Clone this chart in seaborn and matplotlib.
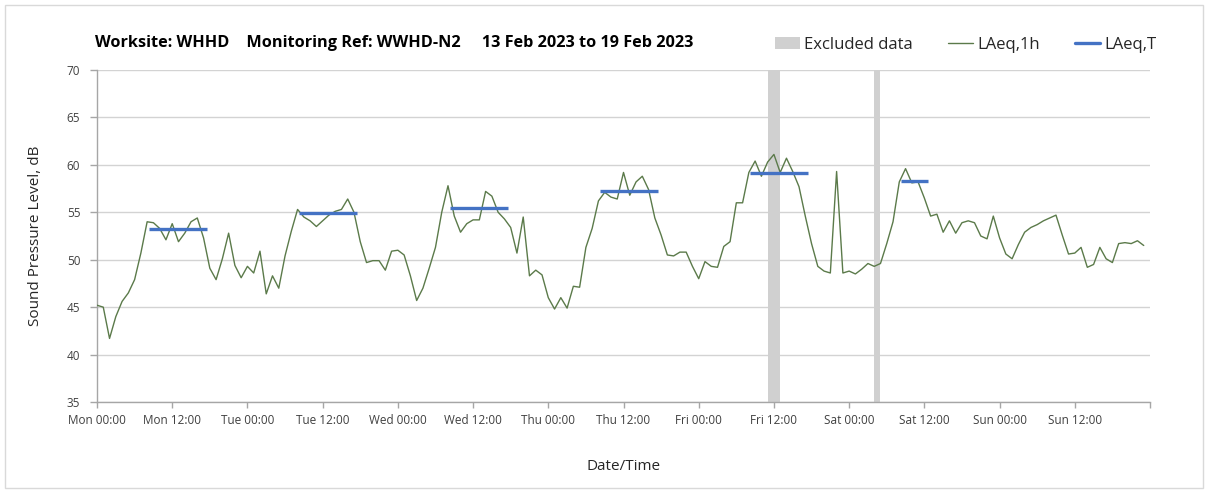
import numpy as np
import pandas as pd
import matplotlib
matplotlib.use("Agg")
import matplotlib.pyplot as plt
import seaborn as sns
from matplotlib.patches import Patch, Rectangle
from matplotlib.lines import Line2D

# ---------------- data ----------------
title_text = "Worksite: WHHD    Monitoring Ref: WWHD-N2     13 Feb 2023 to 19 Feb 2023"

hours = list(range(168))
laeq_1h = [
    # Mon
    45.2, 45.0, 41.7, 44.0, 45.6, 46.5, 47.9, 50.7, 54.0, 53.9, 53.3, 52.1,
    53.8, 51.9, 52.8, 54.0, 54.4, 52.3, 49.1, 47.9, 50.1, 52.8, 49.4, 48.1,
    # Tue
    49.3, 48.6, 50.9, 46.4, 48.3, 47.0, 50.4, 53.0, 55.3, 54.5, 54.1, 53.5,
    54.1, 54.7, 55.1, 55.3, 56.4, 55.0, 51.9, 49.7, 49.9, 49.9, 48.9, 50.9,
    # Wed
    51.0, 50.5, 48.3, 45.7, 47.0, 49.1, 51.3, 55.0, 57.8, 54.6, 52.9, 53.8,
    54.2, 54.2, 57.2, 56.7, 55.0, 54.3, 53.4, 50.7, 54.5, 48.3, 48.9, 48.4,
    # Thu
    46.0, 44.8, 46.0, 44.9, 47.2, 47.1, 51.3, 53.3, 56.2, 57.1, 56.6, 56.4,
    59.2, 56.8, 58.2, 58.8, 57.4, 54.4, 52.6, 50.5, 50.4, 50.8, 50.8, 49.3,
    # Fri
    48.0, 49.8, 49.3, 49.2, 51.4, 51.9, 56.0, 56.0, 59.2, 60.4, 58.8, 60.3,
    61.1, 59.2, 60.7, 59.3, 57.7, 54.6, 51.7, 49.3, 48.8, 48.6, 59.3, 48.6,
    # Sat
    48.8, 48.5, 49.0, 49.6, 49.3, 49.6, 51.7, 54.0, 58.2, 59.6, 58.1, 58.2,
    56.5, 54.6, 54.8, 52.9, 54.1, 52.8, 53.9, 54.1, 53.9, 52.5, 52.2, 54.6,
    # Sun
    52.3, 50.6, 50.1, 51.6, 52.9, 53.4, 53.7, 54.1, 54.4, 54.7, 52.6, 50.6,
    50.7, 51.3, 49.2, 49.5, 51.3, 50.1, 49.7, 51.7, 51.8, 51.7, 52.0, 51.5,
]

period_start = [8.25, 32.25, 56.25, 80.25, 104.25, 128.35]
period_end = [17.5, 41.5, 65.5, 89.5, 113.5, 132.6]
laeq_t = [53.2, 54.9, 55.4, 57.2, 59.1, 58.3]

excluded_start = [107.0, 124.0]
excluded_end = [109.0, 125.0]

x_tick_hours = list(range(0, 169, 12))
x_tick_labels = ["Mon 00:00", "Mon 12:00", "Tue 00:00", "Tue 12:00",
                 "Wed 00:00", "Wed 12:00", "Thu 00:00", "Thu 12:00",
                 "Fri 00:00", "Fri 12:00", "Sat 00:00", "Sat 12:00",
                 "Sun 00:00", "Sun 12:00", ""]
day_lines = list(range(0, 169, 24))
y_ticks = [35, 40, 45, 50, 55, 60, 65, 70]

legend_labels = ["Excluded data", "LAeq,1h", "LAeq,T"]

# ---------------- style ----------------
sns.set_theme(style="white")
plt.rcParams["font.family"] = ["Open Sans", "DejaVu Sans"]

green = "#5b7a4a"
blue = "#4472c4"
grey_band = "#d0d0d0"
grid_c = "#d3d3d3"
axis_c = "#a6a6a6"
text_c = "#262626"

W, H = 1208, 493
fig = plt.figure(figsize=(W / 100, H / 100), dpi=100)
ax = fig.add_axes([97 / W, 1 - 402 / H, (1150 - 97) / W, (402 - 70) / H])

# excluded data bands
for s, e in zip(excluded_start, excluded_end):
    ax.axvspan(s, e, color=grey_band, lw=0, zorder=1)

# hourly line
df = pd.DataFrame({"hour": hours, "level": laeq_1h})
sns.lineplot(data=df, x="hour", y="level", color=green, linewidth=1.0,
             ax=ax, legend=False, zorder=3)

# period LAeq,T
rows = []
for i, (s, e, v) in enumerate(zip(period_start, period_end, laeq_t)):
    rows.append({"hour": s, "level": v, "period": i})
    rows.append({"hour": e, "level": v, "period": i})
dft = pd.DataFrame(rows)
sns.lineplot(data=dft, x="hour", y="level", units="period", estimator=None,
             color=blue, linewidth=2.4, ax=ax, legend=False, zorder=4,
             solid_capstyle="butt")

ax.set_xlim(0, 168)
ax.set_ylim(35, 70)
ax.set_xticks(x_tick_hours)
ax.set_xticklabels(x_tick_labels)
ax.set_xticks(day_lines, minor=True)
ax.set_yticks(y_ticks)
ax.set_yticklabels([str(v) for v in y_ticks])

ax.grid(axis="y", which="major", color=grid_c, linewidth=1.0, zorder=0)
ax.grid(axis="x", which="minor", color=grid_c, linewidth=1.0, zorder=0)
ax.grid(axis="x", which="major", visible=False)
ax.set_axisbelow(True)

for side in ["top", "right"]:
    ax.spines[side].set_visible(False)
for side in ["left", "bottom"]:
    ax.spines[side].set_color(axis_c)
    ax.spines[side].set_linewidth(1.0)

ax.tick_params(axis="x", which="major", direction="out", length=4, width=1,
               color=axis_c, labelsize=8.5, labelcolor="#404040", pad=5)
ax.tick_params(axis="x", which="minor", length=0)
ax.tick_params(axis="y", which="major", direction="out", length=5, width=1,
               color=axis_c, labelsize=8.5, labelcolor="#404040", pad=7)
ax.tick_params(left=True, bottom=True)

ax.set_xlabel("Date/Time", fontsize=11, color=text_c, labelpad=23)
ax.set_ylabel("Sound Pressure Level, dB", fontsize=11, color=text_c, labelpad=17)

# title
fig.text(95 / W, 1 - 43 / H, title_text, fontsize=11.7, fontweight="bold",
         color="black", ha="left", va="center")

# legend
handles = [Patch(facecolor=grey_band, edgecolor="none"),
           Line2D([0], [0], color=green, lw=1.0),
           Line2D([0], [0], color=blue, lw=2.4)]
fig.legend(handles, legend_labels, loc="center left",
           bbox_to_anchor=(775 / W, 1 - 45 / H), ncol=3, frameon=False,
           fontsize=12, handlelength=1.5, handletextpad=0.25,
           columnspacing=2.1, borderpad=0, borderaxespad=0,
           labelcolor=text_c)

# outer chart border
fig.patches.append(Rectangle((5 / W, 5 / H), (1203 - 5) / W, (488 - 5) / H,
                             transform=fig.transFigure, fill=False,
                             edgecolor="#d9d9d9", linewidth=1.0))

fig.savefig("out.png", dpi=100)
